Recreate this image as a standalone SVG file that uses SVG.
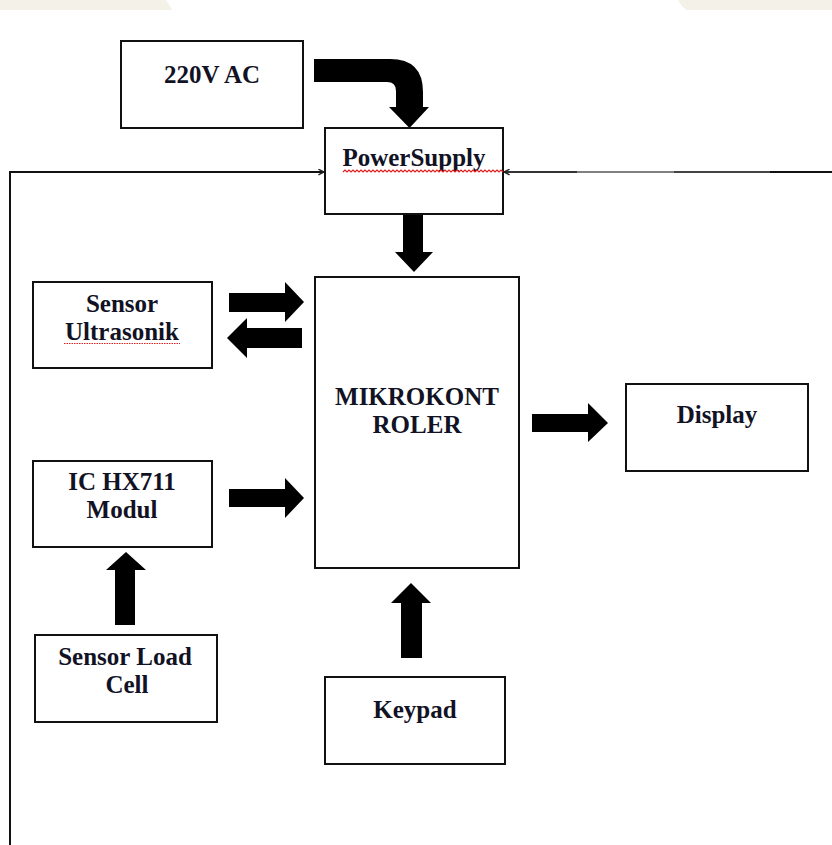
<svg xmlns="http://www.w3.org/2000/svg" width="832" height="845" viewBox="0 0 832 845">
  <style>
    .box { fill: #ffffff; stroke: #111111; stroke-width: 2; }
    .lbl { font-family: "Liberation Serif", "Times New Roman", serif; font-weight: bold; font-size: 25px; fill: #121225; text-anchor: middle; }
    .blk { fill: #000000; }
    .wire { fill: none; stroke: #111111; stroke-width: 2; }
    .squiggle { fill: none; stroke: #e02020; stroke-width: 1.2; }
  </style>
  <defs>
    <marker id="tip" viewBox="0 0 10 10" refX="9" refY="5" markerWidth="7" markerHeight="7" markerUnits="userSpaceOnUse" orient="auto">
      <path d="M1,1 L9,5 L1,9" fill="none" stroke="#222" stroke-width="2"/>
    </marker>
  </defs>

  <rect width="832" height="845" fill="#ffffff"/>

  <!-- page header strip -->
  <path d="M0,0 H166 L170,6 L172,10 H0 Z" fill="#f3f1e8"/>
  <path d="M678,0 H832 V10 H686 L682,6 Z" fill="#f3f1e8"/>

  <!-- connectors -->
  <g id="connectors">
    <!-- feedback wires into the power supply -->
    <path class="wire" d="M10,845 V172 H324" marker-end="url(#tip)"/>
    <line x1="832" y1="172" x2="770" y2="172" stroke="#111" stroke-width="2"/>
    <line x1="770" y1="172" x2="674" y2="172" stroke="#444" stroke-width="2"/>
    <line x1="674" y1="172" x2="577" y2="172" stroke="#808080" stroke-width="2"/>
    <path d="M577,172 H504" fill="none" stroke="#333" stroke-width="2" marker-end="url(#tip)"/>

    <!-- 220V AC to power supply (bent block arrow) -->
    <path class="blk" d="M314,59 L390,59 Q423,59 423,92 L423,107 L429,107 L409.5,128 L389,107 L396,107 L396,91 Q396,82 387,82 L314,82 Z"/>
    <!-- power supply to microcontroller -->
    <path class="blk" d="M403,214 H423 V252 H433 L414,272 L395,252 H403 Z"/>
    <!-- microcontroller to ultrasonic sensor and back -->
    <path class="blk" d="M229,293 H285 V282 L304,302 L285,322 V312 H229 Z"/>
    <path class="blk" d="M302,328 H247 V318 L227,338 L247,358 V348 H302 Z"/>
    <!-- HX711 to microcontroller -->
    <path class="blk" d="M229,489 H285 V478 L304,498 L285,518 V507 H229 Z"/>
    <!-- load cell to HX711 -->
    <path class="blk" d="M115,625 V570 H106 L126,552 L146,570 H135 V625 Z"/>
    <!-- keypad to microcontroller -->
    <path class="blk" d="M401,658 V603 H391 L411,583 L431,603 H422 V658 Z"/>
    <!-- microcontroller to display -->
    <path class="blk" d="M532,414 H588 V403 L608,423 L588,442 V432 H532 Z"/>
  </g>

  <g id="ac220">
    <rect class="box" x="121" y="41" width="182" height="87"/>
    <text class="lbl" x="212" y="83">220V AC</text>
  </g>

  <g id="powersupply">
    <rect class="box" x="325" y="128" width="178" height="86"/>
    <text class="lbl" x="414" y="166">PowerSupply</text>
    <path class="squiggle" d="M343,172 l2,-2 l2,2 l2,-2 l2,2 l2,-2 l2,2 l2,-2 l2,2 l2,-2 l2,2 l2,-2 l2,2 l2,-2 l2,2 l2,-2 l2,2 l2,-2 l2,2 l2,-2 l2,2 l2,-2 l2,2 l2,-2 l2,2 l2,-2 l2,2 l2,-2 l2,2 l2,-2 l2,2 l2,-2 l2,2 l2,-2 l2,2 l2,-2 l2,2 l2,-2 l2,2 l2,-2 l2,2 l2,-2 l2,2 l2,-2 l2,2 l2,-2 l2,2 l2,-2 l2,2 l2,-2 l2,2 l2,-2 l2,2 l2,-2 l2,2 l2,-2 l2,2 l2,-2 l2,2 l2,-2 l2,2 l2,-2 l2,2 l2,-2 l2,2 l2,-2 l2,2 l2,-2 l2,2 l2,-2 l2,2 l2,-2 l2,2 l2,-2 l2,2 l2,-2 l2,2 l2,-2 l2,2 l2,-2 l2,2"/>
  </g>

  <g id="mikrokontroler">
    <rect class="box" x="315" y="277" width="204" height="291"/>
    <text class="lbl" x="417" y="405">MIKROKONT</text>
    <text class="lbl" x="417" y="433">ROLER</text>
  </g>

  <g id="ultrasonik">
    <rect class="box" x="33" y="282" width="179" height="86"/>
    <text class="lbl" x="122" y="312">Sensor</text>
    <text class="lbl" x="122" y="340">Ultrasonik</text>
    <path class="squiggle" stroke-dasharray="1.5 1" d="M64,343.5 H180"/>
  </g>

  <g id="hx711">
    <rect class="box" x="33" y="461" width="179" height="86"/>
    <text class="lbl" x="122" y="490">IC HX711</text>
    <text class="lbl" x="122" y="518">Modul</text>
  </g>

  <g id="loadcell">
    <rect class="box" x="35" y="635" width="182" height="87"/>
    <text class="lbl" x="125" y="665">Sensor Load</text>
    <text class="lbl" x="127" y="693">Cell</text>
  </g>

  <g id="keypad">
    <rect class="box" x="325" y="677" width="180" height="87"/>
    <text class="lbl" x="415" y="718">Keypad</text>
  </g>

  <g id="display">
    <rect class="box" x="626" y="384" width="182" height="87"/>
    <text class="lbl" x="717" y="423">Display</text>
  </g>
</svg>
